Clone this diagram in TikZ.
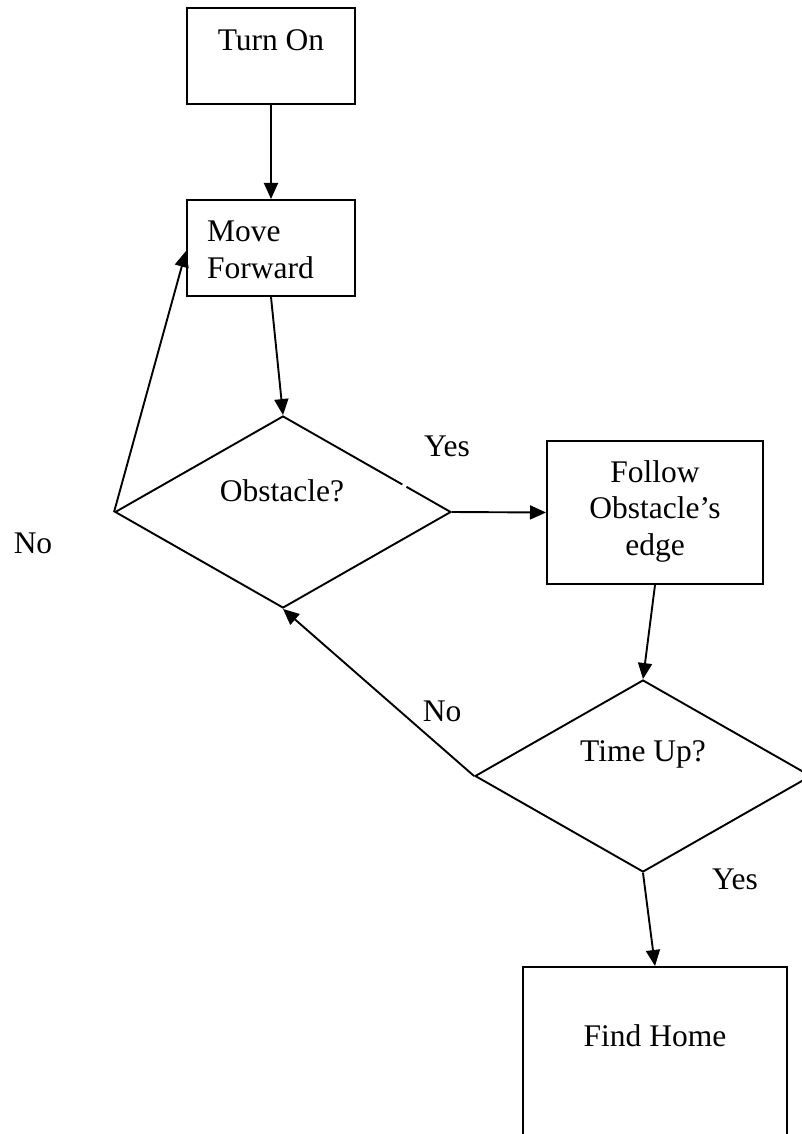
\documentclass[tikz,border=0pt]{standalone}
\usepackage{fontspec}
\setmainfont{Liberation Serif}
\usetikzlibrary{shapes.geometric,arrows.meta}
\begin{document}
\begin{tikzpicture}[x=1pt,y=-1pt,
  every node/.style={font=\fontsize{31.5}{36.5}\selectfont},
  box/.style={draw, line width=2pt, rectangle, inner sep=0pt},
  dia/.style={draw, line width=1.9pt, diamond, inner sep=0pt, minimum width=336pt, minimum height=192pt},
  txt/.style={inner sep=0pt, align=center},
  conn/.style={line width=1.9pt, -{Triangle[length=16pt,width=14pt]}},
]
\useasboundingbox (0,0) rectangle (802,1134);
% boxes
\node[box, minimum width=168pt, minimum height=96pt] (turn) at (271,56) {};
\node[txt] (turnT) at (271,40) {Turn On};
\node[box, minimum width=168pt, minimum height=96pt] (move) at (271,248) {};
\node[txt, align=left, anchor=west] (moveT) at (207,250) {Move\\Forward};
\node[dia] (obs) at (283,512) {};
\node[txt] (obsT) at (282,491) {Obstacle?};
\node[box, minimum width=216pt, minimum height=143pt] (follow) at (655,512.5) {};
\node[txt] (followT) at (655,511) {Follow\\Obstacle’s\\edge};
\node[dia] (time) at (643,776) {};
\node[txt] (timeT) at (643,754) {Time Up?};
\node[box, minimum width=264pt, minimum height=190pt] (find) at (655,1062) {};
\node[txt] (findT) at (655,1036) {Find Home};
% small gap in the diamond edge
\draw[white, line width=3.5pt] (402.5,484.3) -- (406.5,486.6);
% labels
\node[txt] (yes1) at (447,446) {Yes};
\node[txt] (no1) at (33,543) {No};
\node[txt] (no2) at (442,711) {No};
\node[txt] (yes2) at (735,879) {Yes};
% connectors
\draw[conn] (turn.south) -- (move.north);
\draw[conn] (move.south) -- (obs.north);
\draw[conn] (obs.west) -- ([yshift=-3pt]move.west);
\draw[conn] (obs.east) -- (follow.west);
\draw[conn] (follow.south) -- (time.north);
\draw[conn] (time.west) -- (obs.south);
\draw[conn] (time.south) -- (find.north);
\end{tikzpicture}
\end{document}
